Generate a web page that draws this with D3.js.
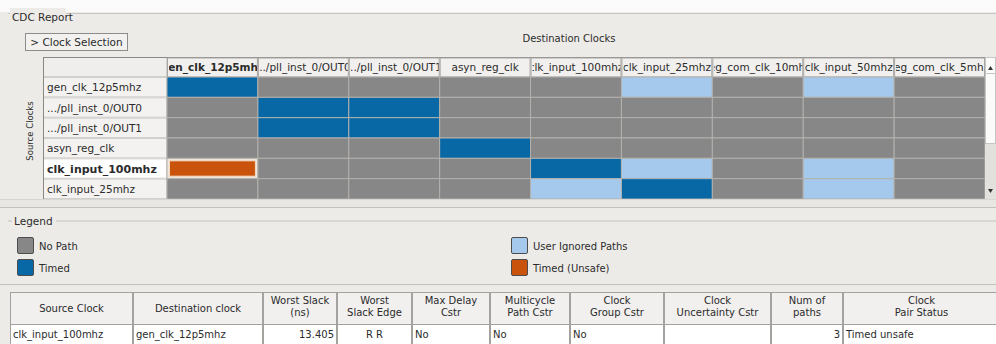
<!DOCTYPE html>
<html><head><meta charset="utf-8">
<script src="https://cdn.jsdelivr.net/npm/d3@7"></script>
<style>
body{margin:0;background:#edebe8;overflow:hidden}
svg{display:block}
text{font-family:"DejaVu Sans",sans-serif;fill:#2b2b2b}
</style>
</head><body><svg id="c" width="996" height="344"></svg>
<script>
// ---------- data ----------
const sourceClocks = ["gen_clk_12p5mhz", ".../pll_inst_0/OUT0", ".../pll_inst_0/OUT1", "asyn_reg_clk", "clk_input_100mhz", "clk_input_25mhz"];
const destClocks = ["gen_clk_12p5mhz", ".../pll_inst_0/OUT0", ".../pll_inst_0/OUT1", "asyn_reg_clk", "clk_input_100mhz", "clk_input_25mhz", "reg_com_clk_10mhz", "clk_input_50mhz", "reg_com_clk_5mhz"];
// N = No Path, T = Timed, U = User Ignored Paths, X = Timed (Unsafe)
const row_gen_clk_12p5mhz  = ["T","N","N","N","N","U","N","U","N"];
const row_pll_out0         = ["N","T","T","N","N","N","N","N","N"];
const row_pll_out1         = ["N","T","T","N","N","N","N","N","N"];
const row_asyn_reg_clk     = ["N","N","N","T","N","N","N","N","N"];
const row_clk_input_100mhz = ["X","N","N","N","T","U","N","U","N"];
const row_clk_input_25mhz  = ["N","N","N","N","U","T","N","U","N"];
const statusRows = [row_gen_clk_12p5mhz,row_pll_out0,row_pll_out1,row_asyn_reg_clk,row_clk_input_100mhz,row_clk_input_25mhz];
const legendCodes = ["N","T","U","X"];
const legendLabels = ["No Path","Timed","User Ignored Paths","Timed (Unsafe)"];
const tableHeaders = [["Source Clock"],["Destination clock"],["Worst Slack","(ns)"],["Worst","Slack Edge"],["Max Delay","Cstr"],["Multicycle","Path Cstr"],["Clock","Group Cstr"],["Clock","Uncertainty Cstr"],["Num of","paths"],["Clock","Pair Status"]];
const tableRow = ["clk_input_100mhz","gen_clk_12p5mhz","13.405","R R","No","No","No","","3","Timed unsafe"];
const selectedSource = "clk_input_100mhz";
const selectedDest = "gen_clk_12p5mhz";

// ---------- drawing ----------
const svg = d3.select("#c");
const colors = {N:"#878787",T:"#0868a6",U:"#a4c9ec",X:"#c9530b"};
const defs = svg.append("defs");

// top white strip
svg.append("rect").attr("x",0).attr("y",0).attr("width",996).attr("height",12).attr("fill","#fbfbfb");

// group box "CDC Report"
svg.append("line").attr("x1",8).attr("x2",996).attr("y1",13.5).attr("y2",13.5).attr("stroke","#c9c7c3");
svg.append("rect").attr("x",10).attr("y",8).attr("width",56).attr("height",14).attr("fill","#edebe8");
svg.append("text").attr("x",12).attr("y",20.5).attr("font-size",10.5).text("CDC Report");

// button
svg.append("rect").attr("x",25.5).attr("y",33.5).attr("width",102).attr("height",17).attr("fill","#f2f1ef").attr("stroke","#8e8c88");
svg.append("text").attr("x",76.5).attr("y",46).attr("text-anchor","middle").attr("font-size",10.5).text("> Clock Selection");

// Destination clocks title
svg.append("text").attr("x",569).attr("y",42).attr("text-anchor","middle").attr("font-size",10).text("Destination Clocks");

// scales
const x = d3.scaleBand().domain(destClocks).range([167,985]).padding(0);
const y = d3.scaleBand().domain(sourceClocks).range([77,199]).padding(0);
const headerTop = 57, rowHeadLeft = 43;

// row header column
const rh = svg.append("g");
rh.selectAll("rect").data(sourceClocks).join("rect")
  .attr("x",rowHeadLeft+0.5).attr("y",d=>y(d)+0.5).attr("width",167-rowHeadLeft-1).attr("height",y.bandwidth()-1)
  .attr("fill",d=>d===selectedSource?"#ffffff":"#f3f2f0").attr("stroke","#d2d0cc");
rh.selectAll("text").data(sourceClocks).join("text")
  .attr("x",47).attr("y",d=>y(d)+y.bandwidth()/2+4)
  .attr("font-size",d=>d===selectedSource?11:10.5)
  .attr("font-weight",d=>d===selectedSource?"bold":"normal")
  .attr("fill",d=>d===selectedSource?"#111":"#333")
  .text(d=>d);
// header corner
svg.append("rect").attr("x",rowHeadLeft+0.5).attr("y",headerTop+0.5).attr("width",167-rowHeadLeft-1).attr("height",77-headerTop-1).attr("fill","#efeeec").attr("stroke","#d2d0cc");
svg.append("line").attr("x1",rowHeadLeft+0.5).attr("x2",rowHeadLeft+0.5).attr("y1",headerTop).attr("y2",199).attr("stroke","#8a8884");
svg.append("line").attr("x1",rowHeadLeft).attr("x2",985).attr("y1",headerTop+0.5).attr("y2",headerTop+0.5).attr("stroke","#8a8884");

// source clocks vertical label
svg.append("text").attr("transform","translate(33,131) rotate(-90)").attr("text-anchor","middle").attr("font-size",8.5).attr("fill","#444").text("Source Clocks");

// column headers (clipped)
const ch = svg.append("g");
destClocks.forEach((d,i)=>{
  defs.append("clipPath").attr("id","hc"+i).append("rect").attr("x",x(d)+2).attr("y",headerTop).attr("width",x.bandwidth()-3).attr("height",20);
});
ch.selectAll("rect").data(destClocks).join("rect")
  .attr("x",d=>x(d)+0.5).attr("y",headerTop+1).attr("width",x.bandwidth()-1).attr("height",19)
  .attr("fill","#f1f0ee").attr("stroke","#a9a7a3");
ch.selectAll("text").data(destClocks).join("text")
  .attr("clip-path",(d,i)=>"url(#hc"+i+")")
  .attr("x",d=>x(d)+x.bandwidth()/2).attr("y",headerTop+14)
  .attr("text-anchor","middle")
  .attr("font-size",d=>d===selectedDest?10.5:10.5)
  .attr("font-weight",d=>d===selectedDest?"bold":"normal")
  .attr("fill",d=>d===selectedDest?"#111":"#333")
  .text(d=>d);

// cells
const cells = [];
statusRows.forEach((r,ri)=>r.forEach((s,ci)=>cells.push({src:sourceClocks[ri],dst:destClocks[ci],s})));
const cg = svg.append("g");
cg.selectAll("rect").data(cells).join("rect")
  .attr("x",d=>x(d.dst)).attr("y",d=>y(d.src))
  .attr("width",x.bandwidth()).attr("height",y.bandwidth())
  .attr("fill",d=>d.s==="X"?"#efe6dc":colors[d.s])
  .attr("stroke","#b3b1ad").attr("stroke-width",1);
cg.selectAll("rect.unsafe").data(cells.filter(d=>d.s==="X")).join("rect").attr("class","unsafe")
  .attr("x",d=>x(d.dst)+2.5).attr("y",d=>y(d.src)+2.5)
  .attr("width",x.bandwidth()-5).attr("height",y.bandwidth()-5)
  .attr("fill",colors.X).attr("stroke","#f4d9c2").attr("stroke-width",1);

// scrollbar
svg.append("rect").attr("x",985).attr("y",57).attr("width",11).attr("height",142).attr("fill","#e3e1dd");
svg.append("rect").attr("x",985.5).attr("y",57.5).attr("width",10).attr("height",86).attr("fill","#fbfbfa").attr("stroke","#c7c5c1");
svg.append("path").attr("d","M988,70 L993,70 L990.5,66 Z").attr("fill","#333");
svg.append("line").attr("x1",985).attr("x2",996).attr("y1",73.5).attr("y2",73.5).attr("stroke","#c7c5c1");
svg.append("path").attr("d","M988,189 L993,189 L990.5,193 Z").attr("fill","#333");

// splitter
svg.append("line").attr("x1",0).attr("x2",996).attr("y1",199.5).attr("y2",199.5).attr("stroke","#d8d6d2");
svg.append("line").attr("x1",0).attr("x2",996).attr("y1",207.5).attr("y2",207.5).attr("stroke","#c3c1bd");
svg.append("rect").attr("x",0).attr("y",200).attr("width",996).attr("height",7).attr("fill","#e9e7e3");

// legend group
svg.append("line").attr("x1",8).attr("x2",996).attr("y1",221).attr("y2",221).attr("stroke","#c5c3bf");
svg.append("rect").attr("x",12).attr("y",214).attr("width",44).attr("height",14).attr("fill","#edebe8");
svg.append("text").attr("x",14).attr("y",225).attr("font-size",10.5).text("Legend");
const lx = d3.scaleOrdinal().domain(legendCodes).range([17,17,511,511]);
const ly = d3.scaleOrdinal().domain(legendCodes).range([237,259,237,259]);
const lg = svg.append("g");
lg.selectAll("rect").data(legendCodes).join("rect")
  .attr("x",d=>lx(d)+0.5).attr("y",d=>ly(d)+0.5).attr("width",16).attr("height",16).attr("rx",1.5)
  .attr("fill",d=>colors[d]).attr("stroke","#4d4d4d");
lg.selectAll("text").data(legendCodes).join("text")
  .attr("x",d=>lx(d)+22).attr("y",d=>ly(d)+12.5).attr("font-size",10)
  .text((d,i)=>legendLabels[i]);
svg.append("line").attr("x1",0).attr("x2",996).attr("y1",284.5).attr("y2",284.5).attr("stroke","#c3c1bd");

// table
const colEdges = [10,133,263,337,412,490,570,664,771,843,1000];
const alignRow = ["start","start","end","middle","start","start","start","start","end","start"];
const tg = svg.append("g");
const hTop = 292, hBot = 324, rBot = 344;
tableHeaders.forEach((h,i)=>{
  const x0 = colEdges[i], x1 = colEdges[i+1];
  tg.append("rect").attr("x",x0+0.5).attr("y",hTop+0.5).attr("width",x1-x0-1).attr("height",hBot-hTop).attr("fill","#f1f0ee").attr("stroke","#a4a29e");
  tg.append("rect").attr("x",x0+0.5).attr("y",hBot+0.5).attr("width",x1-x0-1).attr("height",rBot-hBot+5).attr("fill","#ffffff").attr("stroke","#a4a29e");
  const cx = (x0+x1)/2;
  const t = tg.append("text").attr("x",cx).attr("text-anchor","middle").attr("font-size",10).attr("fill","#333");
  if(h.length===1){ t.attr("y",hTop+20).text(h[0]); }
  else { t.attr("y",hTop+12).text(h[0]); tg.append("text").attr("x",cx).attr("y",hTop+24).attr("text-anchor","middle").attr("font-size",10).attr("fill","#333").text(h[1]); }
  const a = alignRow[i];
  const tx = a==="start"?x0+3:(a==="end"?x1-3:cx);
  tg.append("text").attr("x",tx).attr("y",hBot+14).attr("text-anchor",a).attr("font-size",10).attr("fill","#222").text(tableRow[i]);
});
</script>
</body></html>
